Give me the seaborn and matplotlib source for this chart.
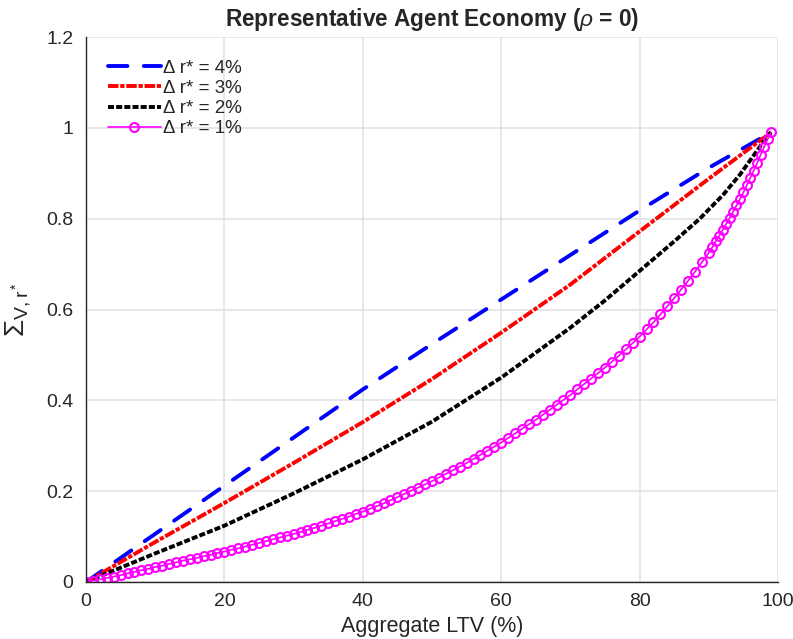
import matplotlib
matplotlib.use("Agg")
import matplotlib.pyplot as plt
import seaborn as sns

# ---------------- data ----------------
blue_x = [0, 10, 20, 30, 40, 50, 60, 70, 80, 90, 99]
blue_y = [0, 0.106, 0.212, 0.318, 0.424, 0.524, 0.622, 0.72, 0.818, 0.912, 0.99]

red_x = [0, 10, 20, 30, 40, 50, 60, 70, 80, 90, 99]
red_y = [0, 0.088, 0.174, 0.262, 0.352, 0.447, 0.549, 0.655, 0.772, 0.888, 0.99]

black_x = [0, 10, 20, 30, 40, 50, 60, 70, 75, 80, 85, 88.7, 92.1, 94.5, 96.9, 98.5, 99]
black_y = [0, 0.063, 0.124, 0.195, 0.27, 0.353, 0.45, 0.56, 0.62, 0.685, 0.75, 0.80,
           0.853, 0.897, 0.948, 0.982, 0.99]

mag_x = list(range(0, 91)) + [90.5, 91.0, 91.5, 92.0, 92.5, 93.0, 93.5, 94.0, 94.5, 95.0,
                               95.5, 96.0, 96.5, 97.0, 97.5, 98.0, 98.5, 99.0]
mag_x = sorted(set(mag_x))
mag_y = [0.000, 0.003, 0.006, 0.009, 0.012, 0.015, 0.019, 0.022, 0.026, 0.029,
         0.033, 0.036, 0.040, 0.043, 0.047, 0.050, 0.053, 0.057, 0.060, 0.064,
         0.067, 0.071, 0.074, 0.078, 0.082, 0.086, 0.090, 0.094, 0.098, 0.102,
         0.106, 0.110, 0.115, 0.119, 0.124, 0.129, 0.134, 0.139, 0.144, 0.150,
         0.155, 0.161, 0.167, 0.173, 0.180, 0.187, 0.194, 0.201, 0.208, 0.215,
         0.222, 0.230, 0.238, 0.246, 0.254, 0.262, 0.271, 0.280, 0.289, 0.298,
         0.307, 0.317, 0.327, 0.337, 0.347, 0.357, 0.368, 0.379, 0.390, 0.401,
         0.412, 0.424, 0.436, 0.448, 0.460, 0.472, 0.485, 0.498, 0.512, 0.526,
         0.540, 0.556, 0.572, 0.589, 0.607, 0.625, 0.644, 0.663, 0.683, 0.704,
         0.725,
         0.737, 0.750, 0.762, 0.775, 0.788, 0.801, 0.815, 0.829, 0.843, 0.858,
         0.874, 0.890, 0.906, 0.923, 0.941, 0.958, 0.975, 0.990]

labels = ["\u0394 r* = 4%", "\u0394 r* = 3%", "\u0394 r* = 2%", "\u0394 r* = 1%"]
x_ticks = [0, 20, 40, 60, 80, 100]
y_ticks = [0, 0.2, 0.4, 0.6, 0.8, 1.0, 1.2]
y_tick_labels = ["0", "0.2", "0.4", "0.6", "0.8", "1", "1.2"]

title = "Representative Agent Economy ($\\rho$ = 0)"
xlabel = "Aggregate LTV (%)"
ylabel = "$\\Sigma_{\\mathrm{V,r^*}}$"

# ---------------- style ----------------
sns.set_theme(style="white")
plt.rcParams['font.family'] = ['Liberation Sans', 'DejaVu Sans']
plt.rcParams['mathtext.fontset'] = 'custom'
plt.rcParams['mathtext.rm'] = 'Liberation Sans'
plt.rcParams['mathtext.it'] = 'Liberation Sans:italic'
plt.rcParams['mathtext.bf'] = 'Liberation Sans:bold'

fig = plt.figure(figsize=(7.93, 6.39), dpi=100)
ax = fig.add_axes([86/793, 57/639, 692/793, 545/639])

lw = 2.8
sns.lineplot(x=blue_x, y=blue_y, ax=ax, color="#0000FF", lw=lw, label=labels[0],
             estimator=None, sort=False)
ax.lines[-1].set_dashes((5.0, 4.2))
ax.lines[-1].set_dash_capstyle('round')
sns.lineplot(x=red_x, y=red_y, ax=ax, color="#FF0000", lw=lw, label=labels[1],
             estimator=None, sort=False)
ax.lines[-1].set_dashes((2.7, 0.45, 1.1, 0.45))
sns.lineplot(x=black_x, y=black_y, ax=ax, color="#000000", lw=lw, label=labels[2],
             estimator=None, sort=False)
ax.lines[-1].set_dashes((1.55, 0.55))
sns.lineplot(x=mag_x, y=mag_y, ax=ax, color="#FF00FF", lw=1.2, label=labels[3],
             estimator=None, sort=False, marker="o", markersize=6.4,
             markerfacecolor="none", markeredgecolor="#FF00FF", markeredgewidth=1.5)

ax.set_xlim(0, 100)
ax.set_ylim(0, 1.2)
ax.set_xticks(x_ticks)
ax.set_xticklabels([str(t) for t in x_ticks], fontsize=14, color="#262626")
ax.set_yticks(y_ticks)
ax.set_yticklabels(y_tick_labels, fontsize=14, color="#262626")
ax.tick_params(direction="in", length=5, width=1, color="#262626")
ax.tick_params(axis="x", pad=8)
ax.tick_params(axis="y", pad=9)
ax.grid(True, color="#E3E3E3", lw=1.2)
ax.set_axisbelow(True)
for s in ["top", "right"]:
    ax.spines[s].set_visible(False)
for s in ["left", "bottom"]:
    ax.spines[s].set_color("#262626")
    ax.spines[s].set_linewidth(1.0)

ax.set_title(title, fontsize=16.3, fontweight="bold", pad=8)
ax.set_xlabel(xlabel, fontsize=15.5, color="#262626", labelpad=4)
ax.set_ylabel(ylabel, fontsize=20, color="#262626")
ax.yaxis.set_label_coords(-0.077, 0.5)

leg = ax.legend(loc="upper left", frameon=False, fontsize=13.5, handlelength=2.8,
                handletextpad=0.15, labelspacing=0.16, borderaxespad=0.0,
                bbox_to_anchor=(0.021, 0.972))

fig.savefig("out.png", dpi=100)
